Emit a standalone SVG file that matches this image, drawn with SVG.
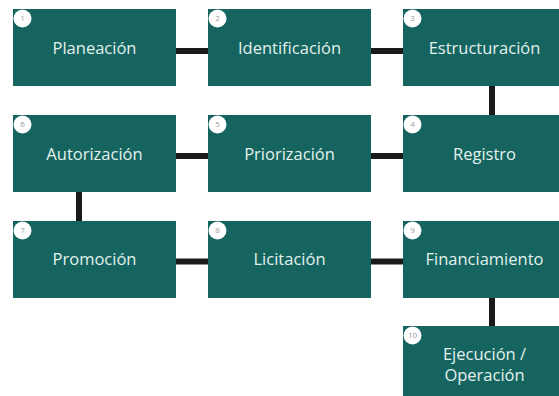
<svg xmlns="http://www.w3.org/2000/svg" width="559" height="396" viewBox="0 0 559 396">
<style>
.box{fill:#166460;}
.lbl{font-family:"Open Sans","Liberation Sans",sans-serif;font-size:16.5px;fill:#e2f1ec;text-anchor:middle;}
.dot{fill:#ffffff;}
.num{font-family:"Open Sans","Liberation Sans",sans-serif;font-size:8px;fill:#9a9a9a;text-anchor:middle;}
.con{stroke:#1a1a1a;stroke-width:6;fill:none;}
</style>
<rect width="559" height="396" fill="#ffffff"/>
<g id="connectors">
<line class="con" x1="176" y1="51" x2="208" y2="51"/>
<line class="con" x1="371" y1="51" x2="403" y2="51"/>
<line class="con" x1="492" y1="86" x2="492" y2="115"/>
<line class="con" x1="371" y1="156" x2="403" y2="156"/>
<line class="con" x1="176" y1="156" x2="208" y2="156"/>
<line class="con" x1="79" y1="192" x2="79" y2="221"/>
<line class="con" x1="176" y1="261.5" x2="208" y2="261.5"/>
<line class="con" x1="371" y1="261.5" x2="403" y2="261.5"/>
<line class="con" x1="492" y1="298" x2="492" y2="326"/>
</g>
<g id="n1"><rect class="box" x="13" y="9" width="163" height="77"/><circle class="dot" cx="22.5" cy="18.5" r="9"/><text class="num" x="22.5" y="21.3">1</text><text class="lbl" x="94.5" y="54">Planeación</text></g>
<g id="n2"><rect class="box" x="208" y="9" width="163" height="77"/><circle class="dot" cx="217.5" cy="18.5" r="9"/><text class="num" x="217.5" y="21.3">2</text><text class="lbl" x="289.5" y="54">Identificación</text></g>
<g id="n3"><rect class="box" x="403" y="9" width="163" height="77"/><circle class="dot" cx="412.5" cy="18.5" r="9"/><text class="num" x="412.5" y="21.3">3</text><text class="lbl" x="484.5" y="54">Estructuración</text></g>
<g id="n4"><rect class="box" x="403" y="115" width="163" height="77"/><circle class="dot" cx="412.5" cy="124.5" r="9"/><text class="num" x="412.5" y="127.3">4</text><text class="lbl" x="484.5" y="160">Registro</text></g>
<g id="n5"><rect class="box" x="208" y="115" width="163" height="77"/><circle class="dot" cx="217.5" cy="124.5" r="9"/><text class="num" x="217.5" y="127.3">5</text><text class="lbl" x="289.5" y="160">Priorización</text></g>
<g id="n6"><rect class="box" x="13" y="115" width="163" height="77"/><circle class="dot" cx="22.5" cy="124.5" r="9"/><text class="num" x="22.5" y="127.3">6</text><text class="lbl" x="94.5" y="160">Autorización</text></g>
<g id="n7"><rect class="box" x="13" y="221" width="163" height="77"/><circle class="dot" cx="22.5" cy="230.5" r="9"/><text class="num" x="22.5" y="233.3">7</text><text class="lbl" x="94.5" y="265">Promoción</text></g>
<g id="n8"><rect class="box" x="208" y="221" width="163" height="77"/><circle class="dot" cx="217.5" cy="230.5" r="9"/><text class="num" x="217.5" y="233.3">8</text><text class="lbl" x="289.5" y="265">Licitación</text></g>
<g id="n9"><rect class="box" x="403" y="221" width="163" height="77"/><circle class="dot" cx="412.5" cy="230.5" r="9"/><text class="num" x="412.5" y="233.3">9</text><text class="lbl" x="484.5" y="265">Financiamiento</text></g>
<g id="n10"><rect class="box" x="403" y="326" width="163" height="77"/><circle class="dot" cx="412.5" cy="335.5" r="9"/><text class="num" x="412.5" y="338.3">10</text><text class="lbl" x="484.5" y="360">Ejecución /</text><text class="lbl" x="484.5" y="381">Operación</text></g>
</svg>
